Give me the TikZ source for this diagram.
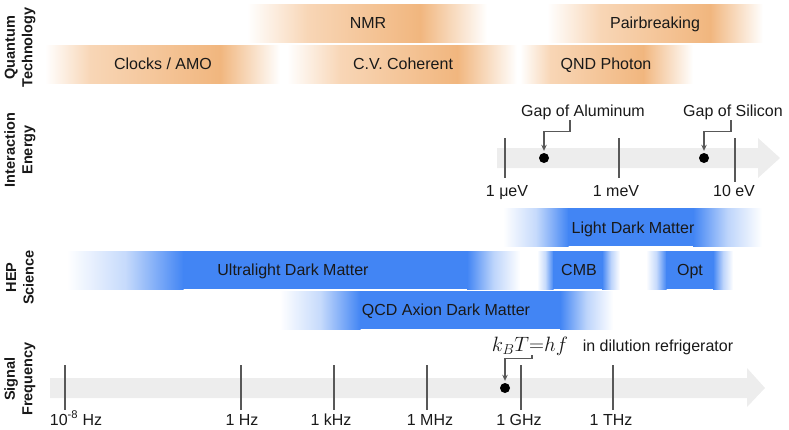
\documentclass[tikz,border=0pt]{standalone}
\usepackage{fontspec}
\setmainfont{Liberation Sans}
\usepackage{amsmath}
\usetikzlibrary{arrows.meta,positioning,calc}

\definecolor{orangelo}{RGB}{248,214,182}
\definecolor{orangehi}{RGB}{241,182,126}
\definecolor{hepblue}{RGB}{66,133,244}
\definecolor{bandgray}{RGB}{237,237,237}
\definecolor{tickgray}{RGB}{88,88,88}

\begin{document}
\begin{tikzpicture}[x=1pt,y=-1pt,
        every node/.style={text=black!90},
        lbl/.style={font=\fontsize{16}{18}\selectfont, text height=11.5pt, text depth=0pt},
        sidelabel/.style={rotate=90, align=center, font=\bfseries\fontsize{14.5}{17.5}\selectfont},
        tick/.style={draw=tickgray, line width=2.8pt},
        pointer/.style={draw=tickgray, line width=1.3pt, -{Stealth[length=6pt,width=5.5pt]}},
        dot/.style={circle, fill=black, inner sep=0pt, minimum size=10pt}]
    \useasboundingbox (0,0) rectangle (789,429);

    % side labels
    \node[sidelabel] (qtech) at (20,47.5) {Quantum\\Technology};
    \node[sidelabel] (ienergy) at (20,150) {Interaction\\Energy};
    \node[sidelabel] (hep) at (20,277.5) {HEP\\Science};
    \node[sidelabel] (sigfreq) at (20,379) {Signal\\Frequency};

    % quantum technology bars
    \foreach \a/\b/\c/\d/\t in {247/307/420/487/4, 45/90/220/280/45, 287/340/457/517/45,
            520/550/643/693/45, 547/600/710/763/4} {
        \shade[left color=white, right color=orangelo] (\a,\t) rectangle (\b+0.5,\t+38);
        \shade[left color=orangelo, right color=orangehi] (\b,\t) rectangle (\c+0.5,\t+38);
        \shade[left color=orangehi, right color=white] (\c,\t) rectangle (\d,\t+38);
    }
    \node[lbl] (nmr) at (368,23) {NMR};
    \node[lbl] (pairbreak) at (655,23) {Pairbreaking};
    \node[lbl] (clocks) at (163,64) {Clocks / AMO};
    \node[lbl] (cvcoh) at (403,64) {C.V. Coherent};
    \node[lbl] (qnd) at (606,64) {QND Photon};

    % interaction energy axis
    \fill[bandgray] (497,148) -- (758,148) -- (758,138) -- (780,158)
        -- (758,178) -- (758,168) -- (497,168) -- cycle;
    \draw[tick] (505,138) -- (505,178);
    \draw[tick] (619,138) -- (619,178);
    \draw[tick] (735,138) -- (735,182);
    \node[lbl, anchor=base] (mueV) at (507,196) {1 μeV};
    \node[lbl, anchor=base] (meV) at (616,196) {1 meV};
    \node[lbl, anchor=base] (tenEV) at (734,196) {10 eV};
    \node[dot] (alu) at (544,158) {};
    \node[dot] (si) at (704,158) {};
    \node[lbl] (alugap) at (583,111) {Gap of Aluminum};
    \node[lbl] (sigap) at (733,111) {Gap of Silicon};
    \draw[pointer, shorten >=2pt] ([xshift=-13pt]alugap.south) -- ++(0,11) -| (alu);
    \draw[pointer, shorten >=2pt] ([xshift=-2pt]sigap.south) -- ++(0,11) -| (si);

    % HEP science bars
    \foreach \a/\b/\c/\d/\t in {503/568/693/762/208, 67/183/467/520/251, 537/553/602/620/251,
            646/666/713/733/251, 280/360/560/613/291} {
        \shade[left color=white, right color=hepblue, middle color=hepblue!30]
            (\a,\t) rectangle (\b+0.5,\t+38);
        \fill[hepblue] (\b,\t) rectangle (\c+0.5,\t+38);
        \shade[left color=hepblue, right color=white, middle color=hepblue!35]
            (\c,\t) rectangle (\d,\t+38);
    }
    \node[lbl] (lightdm) at (633,228) {Light Dark Matter};
    \node[lbl] (ultradm) at (293,270) {Ultralight Dark Matter};
    \node[lbl] (cmb) at (579,270) {CMB};
    \node[lbl] (opt) at (690,270) {Opt};
    \node[lbl] (qcddm) at (446,310) {QCD Axion Dark Matter};

    % signal frequency axis
    \fill[bandgray] (50,378) -- (747,378) -- (747,368) -- (765,388)
        -- (747,407) -- (747,398) -- (50,398) -- cycle;
    \foreach \x in {65,241,334,427,521,613}
        \draw[tick] (\x,365) -- (\x,410);
    \node[lbl, anchor=base] (hzlow) at (76,425) {10\textsuperscript{-8} Hz};
    \node[lbl, anchor=base] (hz) at (242,425) {1 Hz};
    \node[lbl, anchor=base] (khz) at (331,425) {1 kHz};
    \node[lbl, anchor=base] (mhz) at (430,425) {1 MHz};
    \node[lbl, anchor=base] (ghz) at (519,425) {1 GHz};
    \node[lbl, anchor=base] (thz) at (611,425) {1 THz};
    \node[dot] (kbtdot) at (505,388) {};
    \node[inner sep=0pt, font=\fontsize{22}{24}\selectfont] (kbt) at (530,346) {$k_BT{=}hf$};
    \node[lbl] (dilution) at (658,346) {in dilution refrigerator};
    \draw[pointer, shorten >=2pt] ([xshift=2pt]kbt.south) -- ++(0,3) -| (kbtdot);
\end{tikzpicture}
\end{document}
